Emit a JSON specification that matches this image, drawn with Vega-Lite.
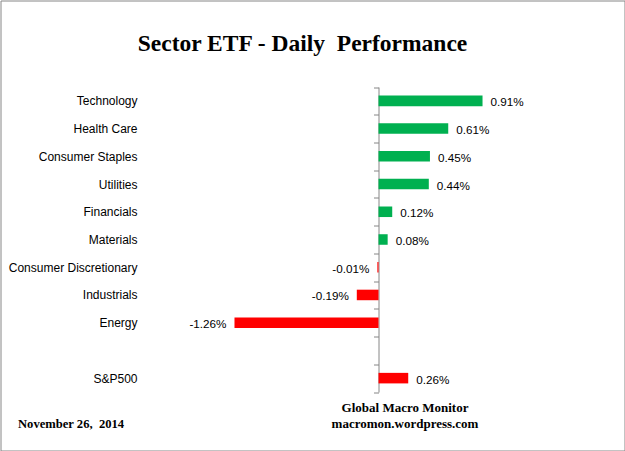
{
  "$schema": "https://vega.github.io/schema/vega-lite/v6.json",
  "autosize": {"type": "none"},
  "padding": 0.5,
  "width": 624,
  "height": 450,
  "background": "white",
  "config": {
    "view": {"stroke": "#868686", "strokeWidth": 1},
    "locale": {"number": {"decimal": ".", "thousands": ",", "grouping": [3], "currency": ["$", ""], "minus": "-"}}
  },
  "title": {
    "text": "Sector ETF - Daily\u00a0 Performance",
    "font": "Liberation Serif",
    "fontSize": 23.5,
    "fontWeight": "bold",
    "color": "#000000",
    "anchor": "middle",
    "frame": "group",
    "dx": -10,
    "offset": -61
  },
  "data": {
    "values": [
      {"sector": "Technology", "value": 0.0091},
      {"sector": "Health Care", "value": 0.0061},
      {"sector": "Consumer Staples", "value": 0.0045},
      {"sector": "Utilities", "value": 0.0044},
      {"sector": "Financials", "value": 0.0012},
      {"sector": "Materials", "value": 0.0008},
      {"sector": "Consumer Discretionary", "value": -0.0001},
      {"sector": "Industrials", "value": -0.0019},
      {"sector": "Energy", "value": -0.0126},
      {"sector": "S&P500", "value": 0.0026}
    ]
  },
  "encoding": {
    "y": {
      "field": "sector",
      "type": "nominal",
      "sort": null,
      "scale": {
        "domain": ["Technology", "Health Care", "Consumer Staples", "Utilities", "Financials", "Materials", "Consumer Discretionary", "Industrials", "Energy", " ", "S&P500"],
        "range": [86.5, 391.5],
        "paddingInner": 0,
        "paddingOuter": 0
      },
      "axis": {
        "title": "November 26,\u00a0 2014",
        "titleFont": "Liberation Serif",
        "titleFontSize": 12.6,
        "titleFontWeight": "bold",
        "titleColor": "#000000",
        "titleAngle": 0,
        "titleAlign": "left",
        "titleBaseline": "alphabetic",
        "titleX": -361,
        "titleY": 427,
        "offset": -378,
        "domainColor": "#868686",
        "domainWidth": 1,
        "tickColor": "#868686",
        "tickSize": 5,
        "tickBand": "extent",
        "labelFont": "Liberation Sans",
        "labelFontSize": 12,
        "labelColor": "#000000",
        "labelPadding": 236.5,
        "grid": false
      }
    },
    "x": {
      "field": "value",
      "type": "quantitative",
      "scale": {"domain": [-0.02, 0.016], "range": [149.4, 560.9], "nice": false, "zero": false},
      "axis": {
        "domain": false,
        "ticks": false,
        "labels": false,
        "grid": false,
        "title": ["Global Macro Monitor", "macromon.wordpress.com"],
        "titleFont": "Liberation Serif",
        "titleFontSize": 13,
        "titleFontWeight": "bold",
        "titleColor": "#000000",
        "titleAlign": "center",
        "titleBaseline": "alphabetic",
        "titleLineHeight": 16,
        "titleX": 404,
        "titleY": -39.5
      }
    }
  },
  "layer": [
    {
      "mark": {"type": "bar", "height": {"band": 0.38}},
      "encoding": {
        "color": {
          "condition": {"test": "datum.sector === 'S&P500' || datum.value < 0", "value": "#FF0000"},
          "value": "#00B050"
        }
      }
    },
    {
      "transform": [{"filter": "datum.value >= 0"}],
      "mark": {"type": "text", "align": "left", "baseline": "middle", "dx": 8, "dy": 1.5, "font": "Liberation Sans", "fontSize": 11.7, "color": "#000000"},
      "encoding": {"text": {"field": "value", "type": "quantitative", "format": ".2%"}}
    },
    {
      "transform": [{"filter": "datum.value < 0"}],
      "mark": {"type": "text", "align": "right", "baseline": "middle", "dx": -8, "dy": 1.5, "font": "Liberation Sans", "fontSize": 11.7, "color": "#000000"},
      "encoding": {"text": {"field": "value", "type": "quantitative", "format": ".2%"}}
    }
  ]
}
